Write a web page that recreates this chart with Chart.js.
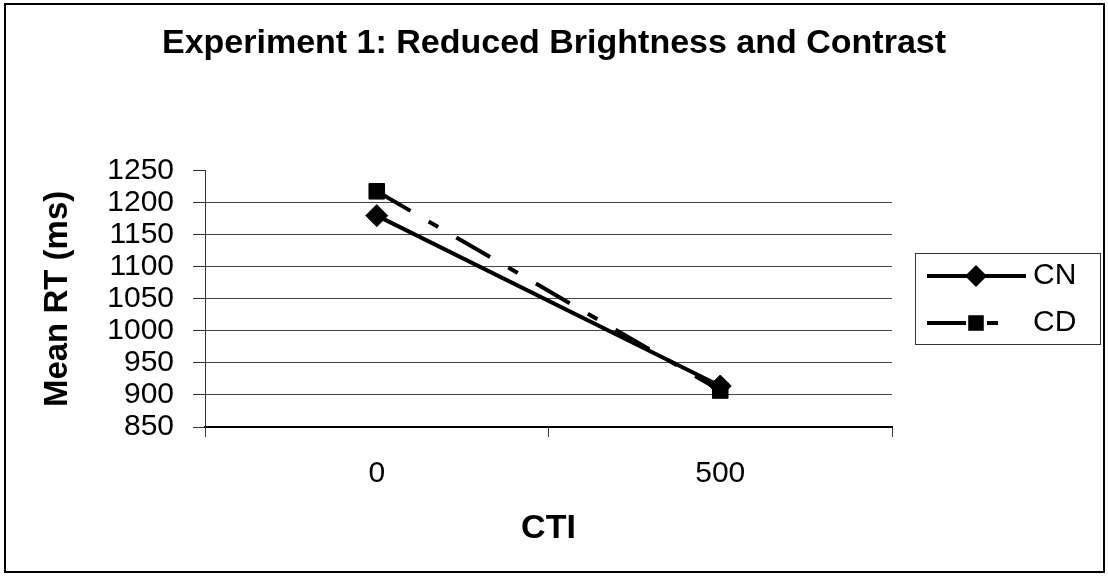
<!DOCTYPE html>
<html>
<head>
<meta charset="utf-8">
<script src="https://cdn.jsdelivr.net/npm/chart.js@4/dist/chart.umd.min.js"></script>
<style>
html, body { margin:0; padding:0; background:#fff; }
#wrap { position:relative; width:1108px; height:576px; }
</style>
</head>
<body>
<div id="wrap"><canvas id="rtChart"></canvas></div>
<script>
// ----- data -----
const ctiLabels = ['0', '500'];
const cnValues = [1180, 914];
const cdValues = [1218, 907];
const seriesNames = ['CN', 'CD'];
const yMin = 850, yMax = 1250, yStep = 50;

const FONT = '"Liberation Sans", Arial, sans-serif';

// ----- small marker helper for the legend -----
function drawMarker(c, style, x, y, r){
  c.beginPath();
  if(style === 'rectRot'){
    c.moveTo(x, y - r); c.lineTo(x + r, y); c.lineTo(x, y + r); c.lineTo(x - r, y);
    c.closePath();
  } else {
    const s = r * Math.SQRT1_2;
    c.rect(x - s, y - s, 2 * s, 2 * s);
  }
  c.fill();
}

// ----- outer frame -----
const frame = {
  id: 'frame',
  beforeDraw(chart){
    const c = chart.ctx;
    c.save();
    c.fillStyle = '#fff';
    c.fillRect(0, 0, chart.width, chart.height);
    c.strokeStyle = '#000';
    c.lineWidth = 2;
    c.strokeRect(5, 4, 1099, 568);
    c.restore();
  }
};

// ----- legend box (line + marker samples) -----
const legendBox = {
  id: 'legendBox',
  afterDraw(chart){
    const c = chart.ctx;
    c.save();
    c.strokeStyle = '#333';
    c.lineWidth = 1;
    c.strokeRect(915.5, 253.5, 185, 91);
    chart.data.datasets.forEach((ds, i) => {
      const y = 276 + i * 47;
      c.beginPath();
      c.setLineDash(ds.borderDash || []);
      c.lineWidth = ds.borderWidth;
      c.strokeStyle = ds.borderColor;
      c.moveTo(927, y);
      c.lineTo(ds.borderDash ? 1004 : 1026, y);
      c.stroke();
      c.setLineDash([]);
      c.fillStyle = ds.pointBackgroundColor;
      drawMarker(c, ds.pointStyle, 976, y, ds.pointRadius);
      c.fillStyle = '#000';
      c.font = '30px ' + FONT;
      c.textAlign = 'left';
      c.textBaseline = 'middle';
      c.fillText(ds.label, 1033, y);
    });
    c.restore();
  }
};

new Chart(document.getElementById('rtChart'), {
  type: 'line',
  data: {
    labels: ctiLabels,
    datasets: [
      { label: seriesNames[0], data: cnValues, borderColor:'#000', borderWidth:4,
        pointStyle:'rectRot', pointRadius:11, pointBackgroundColor:'#000', pointBorderColor:'#000', pointBorderWidth:1 },
      { label: seriesNames[1], data: cdValues, borderColor:'#000', borderWidth:4, borderDash:[39, 21, 11, 21],
        pointStyle:'rect', pointRadius:11, pointBackgroundColor:'#000', pointBorderColor:'#000', pointBorderWidth:1 }
    ]
  },
  options: {
    responsive:true,
    maintainAspectRatio:false,
    animation:false,
    layout:{ padding:0 },
    plugins:{
      legend:{ display:false },
      tooltip:{ enabled:false },
      title:{
        display:true,
        text:'Experiment 1: Reduced Brightness and Contrast',
        color:'#000',
        font:{ family:FONT, size:34, weight:'bold' },
        padding:{ top:23, bottom:107 }
      }
    },
    scales:{
      x:{
        offset:true,
        afterFit: axis => { axis.height = 149; },
        grid:{ offset:true, drawOnChartArea:false, tickLength:10, tickColor:'#333' },
        border:{ color:'#000', width:2 },
        ticks:{ color:'#000', padding:19, font:{ family:FONT, size:30 } },
        title:{ display:true, text:'CTI', color:'#000', font:{ family:FONT, size:34, weight:'bold' }, padding:{ top:0, bottom:27 } }
      },
      y:{
        min:yMin, max:yMax,
        afterFit: axis => { axis.width = 205; },
        grid:{
          color: ctx => (ctx.tick && ctx.tick.value === yMax) ? 'rgba(0,0,0,0)' : '#444',
          tickColor:'#333', tickLength:12, lineWidth:1
        },
        border:{ color:'#333', width:1 },
        ticks:{ stepSize:yStep, autoSkip:false, color:'#000', padding:19, font:{ family:FONT, size:30 },
                callback: v => String(v) },
        title:{ display:true, text:'Mean RT (ms)', color:'#000', font:{ family:FONT, size:33, weight:'bold' }, padding:{ top:38, bottom:0 } }
      },
      // empty right-hand box that keeps room for the legend
      legendSpace:{
        type:'linear', position:'right', display:true,
        afterFit: axis => { axis.width = 216; },
        grid:{ display:false }, border:{ display:false }, ticks:{ display:false }
      }
    }
  },
  plugins:[frame, legendBox]
});
</script>
</body>
</html>
